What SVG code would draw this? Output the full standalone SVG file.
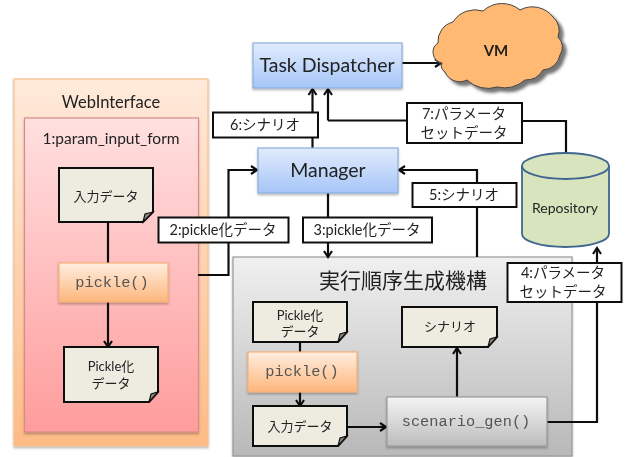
<svg xmlns="http://www.w3.org/2000/svg" width="626" height="457" viewBox="0 0 626 457">
<style>
text{font-family:"Lato","Noto Sans CJK JP",sans-serif;fill:#222;text-anchor:middle}
.lab{font-size:14.500px}
.doc{font-size:13px}
.code{font-family:"Liberation Mono",monospace;font-size:15.300px;fill:#555}
.d{fill:#eeece1;stroke:#111;stroke-width:2}
.f{fill:#8a8a80;stroke:#111;stroke-width:1.2}
.l{fill:#fff;stroke:#111;stroke-width:2}
.c{fill:none;stroke:#111;stroke-width:2.2;marker-end:url(#a)}
.n{fill:none;stroke:#111;stroke-width:2.2}
.blue{fill:url(#gb);stroke:#8db0dc;stroke-width:1.2;filter:url(#s)}
.org{fill:url(#go);stroke:#f5b078;stroke-width:1.2;filter:url(#s)}
</style>
<defs>
<linearGradient id="gb" x1="0" y1="0" x2="0" y2="1"><stop offset="0" stop-color="#e2ecfd"/><stop offset="1" stop-color="#a5c5f8"/></linearGradient>
<linearGradient id="go" x1="0" y1="0" x2="0" y2="1"><stop offset="0" stop-color="#ffeee0"/><stop offset="1" stop-color="#fdb67c"/></linearGradient>
<linearGradient id="gw" x1="0" y1="0" x2="0" y2="1"><stop offset="0" stop-color="#ffeadb"/><stop offset="1" stop-color="#fdbb85"/></linearGradient>
<linearGradient id="gp" x1="0" y1="0" x2="0" y2="1"><stop offset="0" stop-color="#ffe0e0"/><stop offset="1" stop-color="#ff9c9c"/></linearGradient>
<linearGradient id="gg" x1="0" y1="0" x2="0" y2="1"><stop offset="0" stop-color="#f0f0f0"/><stop offset="1" stop-color="#b8b8b8"/></linearGradient>
<linearGradient id="gs" x1="0" y1="0" x2="0" y2="1"><stop offset="0" stop-color="#f4f4f4"/><stop offset="1" stop-color="#bcbcbc"/></linearGradient>
<filter id="s" x="-10%" y="-10%" width="120%" height="120%"><feDropShadow dx="0" dy="1.500" stdDeviation="1" flood-color="#000" flood-opacity=".3"/></filter>
<filter id="cs" x="-10%" y="-10%" width="125%" height="125%"><feDropShadow dx="4" dy="4" stdDeviation="1.500" flood-color="#555" flood-opacity=".8"/></filter>
<filter id="soft" x="0" y="0" width="100%" height="100%"><feGaussianBlur stdDeviation="0.400"/></filter>
<marker id="a" markerUnits="userSpaceOnUse" markerWidth="12" markerHeight="12" refX="9" refY="6" orient="auto"><path d="M3 2 L9 6 L3 10" fill="none" stroke="#111" stroke-width="2.200"/></marker>
</defs>
<g filter="url(#soft)">
<rect width="626" height="457" fill="#fff"/>
<g id="webinterface">
<rect x="14" y="79" width="194" height="367" fill="url(#gw)" stroke="#f6c08f" stroke-width="1.2" filter="url(#s)"/>
<text x="111" y="108" font-size="16.500">WebInterface</text>
</g>
<g id="param-input-form">
<rect x="24.500" y="118" width="174" height="314" fill="url(#gp)" stroke="#d98a8a" stroke-width="1.2" filter="url(#s)"/>
<text x="111" y="144" font-size="15.500">1:param_input_form</text>
</g>
<g id="gen-mechanism">
<rect x="233" y="257" width="339" height="199" fill="url(#gg)" stroke="#999" stroke-width="1.2" filter="url(#s)"/>
<text x="403" y="288" font-size="21">実行順序生成機構</text>
</g>

<g id="connectors">
<path class="n" d="M108 222V263"/>
<path class="c" d="M108 302V347"/>
<path class="c" d="M198 275H228.500V170H257"/>
<path class="c" d="M312.500 148V89"/>
<path class="c" d="M328 120.500V89"/>
<path class="n" d="M328 120.500H407"/>
<path class="n" d="M522 121H566V153"/>
<path class="c" d="M402 63H441"/>
<path class="c" d="M328 193V257"/>
<path class="c" d="M477 257V170H399"/>
<path class="c" d="M547 422H597V248"/>
<path class="n" d="M300 342V352"/>
<path class="c" d="M300 392V406"/>
<path class="c" d="M347 427H386"/>
<path class="c" d="M457 402V348"/>
</g>

<g id="input-data-1">
<path class="d" d="M59 168H153V212L143 222H59Z"/><path class="f" d="M143 222L145 214L153 212Z"/>
<text x="106" y="201" class="doc">入力データ</text>
</g>
<g id="pickle-1">
<rect class="org" x="59" y="263" width="109" height="39"/>
<text x="112" y="287" class="code">pickle()</text>
</g>
<g id="pickled-data-1">
<path class="d" d="M64 347H158V392L149 402H64Z"/><path class="f" d="M149 402L151 394L158 392Z"/>
<text x="111" y="371" class="doc">Pickle化</text><text x="111" y="388" class="doc">データ</text>
</g>
<g id="task-dispatcher">
<rect class="blue" x="253" y="43" width="149" height="45"/>
<text x="327" y="72" font-size="19.500">Task Dispatcher</text>
</g>
<g id="manager">
<rect class="blue" x="258" y="148" width="140" height="45"/>
<text x="328" y="177" font-size="19.500">Manager</text>
</g>
<g id="vm">
<path d="M442 63A11 11 0 0 1 438 43A20 20 0 0 1 453 22A26 26 0 0 1 483 11A28 28 0 0 1 520 10A26 26 0 0 1 553 17A18 18 0 0 1 558 37A14 14 0 0 1 560 55A18 18 0 0 1 543 70A20 20 0 0 1 525 80A32 32 0 0 1 497 87A30 30 0 0 1 467 80A16 16 0 0 1 445 72A7 7 0 0 1 442 63Z" fill="#ffb973" stroke="#444" stroke-width="1" filter="url(#cs)"/>
<text x="496" y="56" font-size="15" font-weight="bold" fill="#111">VM</text>
</g>
<g id="repository">
<path d="M522 166V234A43.500 13 0 0 0 609 234V166Z" fill="#d7e4bd" stroke="#41668f" stroke-width="1.8"/>
<ellipse cx="565.500" cy="166" rx="43.500" ry="13" fill="#d7e4bd" stroke="#41668f" stroke-width="1.8"/>
<text x="565" y="213" font-size="14">Repository</text>
</g>
<g id="label-6"><rect class="l" x="213" y="112.500" width="105" height="25"/><text x="265" y="130" class="lab">6:シナリオ</text></g>
<g id="label-7"><rect class="l" x="407" y="103" width="115" height="40"/><text x="464" y="119" class="lab">7:パラメータ</text><text x="464" y="138" class="lab">セットデータ</text></g>
<g id="label-5"><rect class="l" x="412.500" y="183" width="104" height="24"/><text x="464" y="200" class="lab">5:シナリオ</text></g>
<g id="label-2"><rect class="l" x="158.500" y="217.500" width="130" height="25"/><text x="223" y="235" class="lab">2:pickle化データ</text></g>
<g id="label-3"><rect class="l" x="303" y="217.500" width="129" height="25"/><text x="367" y="235" class="lab">3:pickle化データ</text></g>
<g id="label-4"><rect class="l" x="507.500" y="263" width="114" height="39"/><text x="563" y="278" class="lab">4:パラメータ</text><text x="563" y="297" class="lab">セットデータ</text></g>
<g id="pickled-data-2">
<path class="d" d="M253 302H347V332L338 342H253Z"/><path class="f" d="M338 342L340 334L347 332Z"/>
<text x="300" y="320" class="doc">Pickle化</text><text x="300" y="336" class="doc">データ</text>
</g>
<g id="pickle-2">
<rect class="org" x="248" y="352" width="109" height="40"/>
<text x="302" y="376" class="code">pickle()</text>
</g>
<g id="input-data-2">
<path class="d" d="M253 406H347V436L338 446H253Z"/><path class="f" d="M338 446L340 438L347 436Z"/>
<text x="300" y="431" class="doc">入力データ</text>
</g>
<g id="scenario-gen">
<rect x="387" y="397" width="160" height="49" fill="url(#gs)" stroke="#999" stroke-width="1.2" filter="url(#s)"/>
<text x="466" y="426" class="code">scenario_gen()</text>
</g>
<g id="scenario">
<path class="d" d="M402 307H497V337L488 347H402Z"/><path class="f" d="M488 347L490 339L497 337Z"/>
<text x="450" y="331" class="doc">シナリオ</text>
</g>
</g>
</svg>
